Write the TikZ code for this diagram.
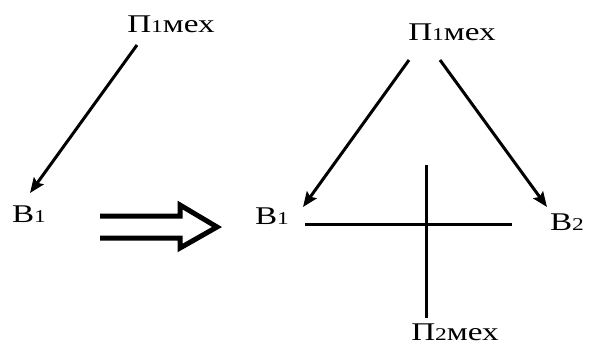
\documentclass[tikz,border=0pt]{standalone}
\usepackage{fontspec}
\setmainfont{Liberation Serif}
\usetikzlibrary{arrows.meta,calc}

% wide lettering and small index digits
\newcommand{\wide}[1]{\scalebox{1.3}[1]{#1}}
\newcommand{\idx}[1]{{\fontsize{18}{18}\selectfont #1}}

\tikzset{
  lbl/.style={inner sep=2pt, font=\fontsize{25.5}{27}\selectfont},
  arr/.style={line width=3pt, -{Stealth[length=15pt,width=12pt,inset=2.5pt]}},
  bar/.style={line width=3pt},
  dbl/.style={line width=5pt, miter limit=20}
}

\begin{document}
\begin{tikzpicture}[x=1pt,y=-1pt]
  \useasboundingbox (0,0) rectangle (603,349);

  % before
  \node[lbl] (p1l) at (171,24) {\wide{П\idx{1}мех}};
  \node[lbl] (b1l) at (29,214) {\wide{В\idx{1}}};
  \draw[arr] ($(p1l)+(-34,21)$) -- ($(b1l)+(1,-21)$);

  % transition
  \coordinate (dtail) at (100,227);
  \coordinate (dtip) at (217,227);
  \draw[dbl] ($(dtail)+(0,-11)$) -- ($(dtip)+(-37,-11)$) -- ($(dtip)+(-37,-22)$)
    -- (dtip) -- ($(dtip)+(-37,21)$) -- ($(dtip)+(-37,11)$) -- ($(dtail)+(0,11)$);

  % after
  \node[lbl] (p1r) at (452,32) {\wide{П\idx{1}мех}};
  \node[lbl] (b1r) at (272,216) {\wide{В\idx{1}}};
  \node[lbl] (b2r) at (567,222) {\wide{В\idx{2}}};
  \node[lbl] (p2r) at (455,332) {\wide{П\idx{2}мех}};
  \draw[arr] ($(p1r)+(-43,28)$) -- ($(b1r)+(31,-9)$);
  \draw[arr] ($(p1r)+(-12,28)$) -- ($(b2r)+(-20,-15)$);
  \draw[bar] ($(b1r)+(33,8)$) -- ($(b2r)+(-55,2)$);
  \coordinate (ctop) at (426,165);
  \draw[bar] (ctop) -- ($(p2r)+(-29,-14)$);
\end{tikzpicture}
\end{document}
